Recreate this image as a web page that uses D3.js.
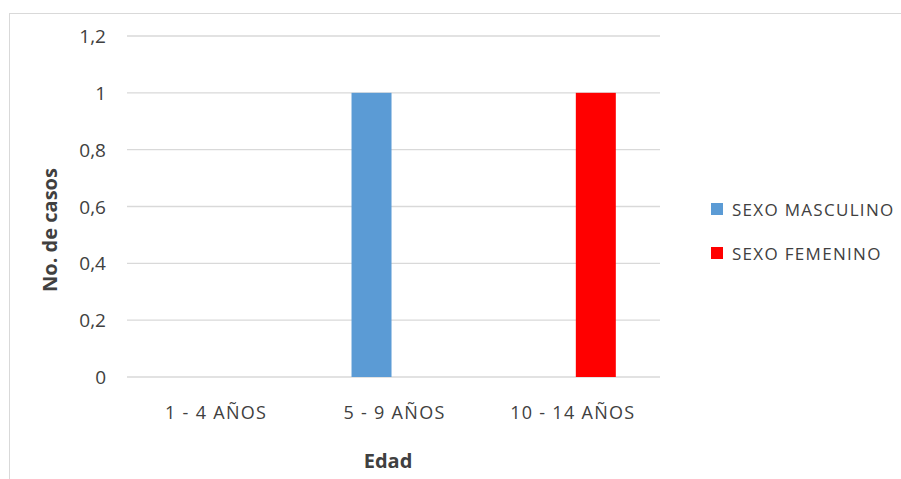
<!DOCTYPE html>
<html>
<head>
<meta charset="utf-8">
<script src="https://cdn.jsdelivr.net/npm/d3@7"></script>
<style>
  body { margin: 0; background: #fff; }
  text { font-family: "Open Sans", sans-serif; fill: #404040; }
</style>
</head>
<body>
<script>
const categories = ["1 - 4 AÑOS", "5 - 9 AÑOS", "10 - 14 AÑOS"]
const seriesNames = ["SEXO MASCULINO", "SEXO FEMENINO"]
const masculino = [0, 1, 0]
const femenino = [0, 0, 1]
const yTicks = [0, 0.2, 0.4, 0.6, 0.8, 1, 1.2]
const colors = ["#5B9BD5", "#FF0000"]

const width = 901
const height = 479

const svg = d3.select("body").append("svg")
  .attr("width", width)
  .attr("height", height)

// chart frame
svg.append("rect")
  .attr("x", 9.5).attr("y", 13.5)
  .attr("width", 1000).attr("height", 1000)
  .attr("fill", "none")
  .attr("stroke", "#d9d9d9")

const x = d3.scaleBand()
  .domain(categories)
  .range([127, 662])
  .paddingInner(0.518)
  .paddingOuter(0.259)

const x1 = d3.scaleBand()
  .domain(seriesNames)
  .range([0, x.bandwidth()])
  .paddingInner(0.13)

const y = d3.scaleLinear()
  .domain([0, 1.2])
  .range([377, 36])

const fmt = d => String(+d.toFixed(1)).replace(".", ",")

// gridlines
svg.selectAll("line.grid")
  .data(yTicks)
  .enter()
  .append("line")
  .attr("class", "grid")
  .attr("x1", 127).attr("x2", 660)
  .attr("y1", d => y(d)).attr("y2", d => y(d))
  .attr("stroke", "#d9d9d9")
  .attr("stroke-width", 1.3)

// y tick labels
svg.selectAll("text.ytick")
  .data(yTicks)
  .enter()
  .append("text")
  .attr("class", "ytick")
  .attr("x", 106)
  .attr("y", d => y(d) + 7)
  .attr("text-anchor", "end")
  .style("font-size", "19px")
  .text(fmt)

const rows = categories.map((c, i) => ({ cat: c, values: [masculino[i], femenino[i]] }))

svg.selectAll("g.cat")
  .data(rows)
  .enter()
  .append("g")
  .attr("class", "cat")
  .attr("transform", d => "translate(" + x(d.cat) + ",0)")
  .selectAll("rect")
  .data(d => d.values.map((v, j) => ({ name: seriesNames[j], value: v, j: j })))
  .enter()
  .append("rect")
  .attr("x", d => x1(d.name))
  .attr("y", d => y(d.value))
  .attr("width", x1.bandwidth())
  .attr("height", d => y(0) - y(d.value))
  .attr("fill", d => colors[d.j])

// x labels
svg.selectAll("text.xtick")
  .data(categories)
  .enter()
  .append("text")
  .attr("class", "xtick")
  .attr("x", d => x(d) + x.bandwidth() / 2)
  .attr("y", 419)
  .attr("text-anchor", "middle")
  .style("font-size", "18px")
  .style("letter-spacing", "1.3px")
  .text(d => d)

// axis titles
svg.append("text")
  .attr("transform", "translate(57,230) rotate(-90)")
  .attr("text-anchor", "middle")
  .style("font-size", "20px")
  .style("font-weight", "bold")
  .text("No. de casos")

svg.append("text")
  .attr("x", 388)
  .attr("y", 468)
  .attr("text-anchor", "middle")
  .style("font-size", "20px")
  .style("font-weight", "bold")
  .text("Edad")

// legend
const legend = svg.selectAll("g.legend")
  .data(seriesNames)
  .enter()
  .append("g")
  .attr("class", "legend")
  .attr("transform", (d, i) => "translate(711," + (203 + i * 44) + ")")

legend.append("rect")
  .attr("width", 12).attr("height", 12)
  .attr("fill", (d, i) => colors[i])

legend.append("text")
  .attr("x", 21)
  .attr("y", 13)
  .style("font-size", "17px")
  .style("letter-spacing", "1.3px")
  .text(d => d)
</script>
</body>
</html>
